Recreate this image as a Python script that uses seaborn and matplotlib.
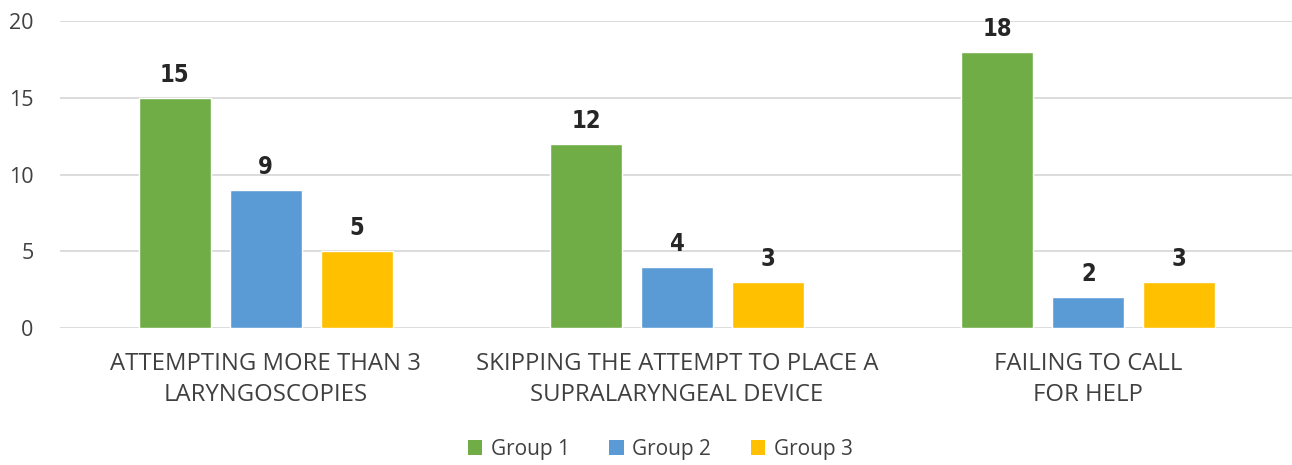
import matplotlib
matplotlib.use("Agg")
import matplotlib.pyplot as plt
import seaborn as sns
import pandas as pd
from matplotlib.patches import Patch
from matplotlib import font_manager

categories = ["ATTEMPTING MORE THAN 3\nLARYNGOSCOPIES",
              "SKIPPING THE ATTEMPT TO PLACE A\nSUPRALARYNGEAL DEVICE",
              "FAILING TO CALL\nFOR HELP"]
groups = ["Group 1", "Group 2", "Group 3"]
group1 = [15, 12, 18]
group2 = [9, 4, 2]
group3 = [5, 3, 3]
colors = ["#70AD47", "#5B9BD5", "#FFC000"]
yticks = [0, 5, 10, 15, 20]

rows = []
for g, vals in zip(groups, [group1, group2, group3]):
    for c, v in zip(categories, vals):
        rows.append({"category": c, "group": g, "value": v})
df = pd.DataFrame(rows)

sns.set_theme(style="white")
plt.rcParams['font.family'] = ['Open Sans', 'DejaVu Sans']
text_color = "#404040"

fig = plt.figure(figsize=(12.92, 4.65), dpi=100)
ax = fig.add_axes([0.0465, 0.2946, 0.955, 0.6602])

sns.barplot(data=df, x="category", y="value", hue="group", palette=colors,
            width=0.663, gap=0.21, ax=ax, legend=False, saturation=1)

ax.set_ylim(0, 20)
ax.set_xlim(-0.5, 2.5)
ax.set_yticks(yticks)
ax.yaxis.grid(True, color="#D9D9D9", linewidth=1.3)
ax.set_axisbelow(True)
for s in ax.spines.values():
    s.set_visible(False)
ax.set_xlabel("")
ax.set_ylabel("")
ax.tick_params(axis="y", labelsize=15.5, colors=text_color, length=0, pad=19)
ax.tick_params(axis="x", labelsize=17.2, colors=text_color, length=0, pad=17)
for lab in ax.get_xticklabels():
    lab.set_linespacing(1.4)

# condensed bold font for value labels
narrow = None
for name in ["Liberation Sans Narrow", "DejaVu Sans"]:
    try:
        fp = font_manager.FontProperties(family=name, weight="bold", stretch="condensed", size=17)
        font_manager.findfont(fp, fallback_to_default=False)
        narrow = fp
        break
    except Exception:
        continue

for cont in ax.containers:
    ax.bar_label(cont, padding=8, fontproperties=narrow, color="#262626")

handles = [Patch(facecolor=c, edgecolor="none") for c in colors]
leg = fig.legend(handles, groups, loc="center", bbox_to_anchor=(0.511, 0.034), ncol=3,
                 frameon=False, fontsize=15, handlelength=0.7, handleheight=0.7,
                 columnspacing=1.9, handletextpad=0.4)
for t in leg.get_texts():
    t.set_color(text_color)

fig.savefig("out.png", dpi=100)
